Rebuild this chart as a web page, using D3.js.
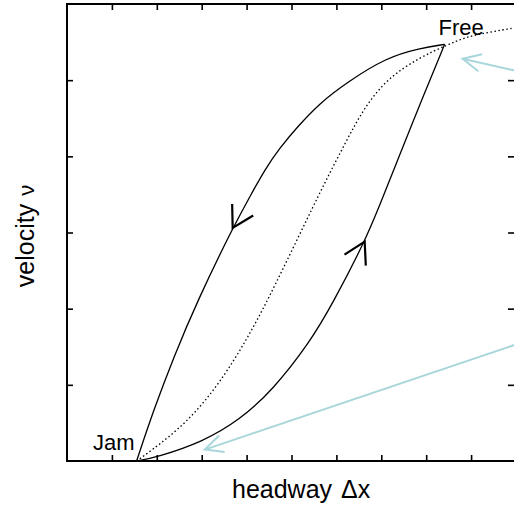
<!DOCTYPE html>
<html>
<head>
<meta charset="utf-8">
<script src="https://cdn.jsdelivr.net/npm/d3@7"></script>
<style>
body { margin: 0; background: #fff; }
text { font-family: "Liberation Sans", Arial, sans-serif; fill: #000; }
</style>
</head>
<body>
<script>
var w = 514, h = 507;

// optimal velocity curve (dotted)
var ovX = [1.55, 1.84, 2.67, 3.40, 4.00, 4.47, 5.12, 5.76, 6.23, 6.59, 7.12, 7.86, 8.46, 8.90, 9.41, 10.0];
var ovY = [0, 0.12, 0.50, 1.02, 1.59, 2.11, 2.90, 3.68, 4.21, 4.61, 5.02, 5.30, 5.46, 5.57, 5.63, 5.69];
// deceleration branch, free -> jam
var decX = [8.41, 7.86, 7.12, 6.23, 5.63, 5.12, 4.74, 4.42, 4.09, 3.69, 2.91, 2.38, 1.93, 1.55];
var decY = [5.47, 5.42, 5.30, 4.97, 4.70, 4.38, 4.11, 3.84, 3.49, 3.06, 2.11, 1.37, 0.67, 0];
// acceleration branch, jam -> free
var accX = [1.55, 2.00, 3.02, 3.85, 4.58, 5.40, 5.92, 6.63, 6.94, 7.45, 7.90, 8.41];
var accY = [0, 0.05, 0.25, 0.54, 0.93, 1.55, 2.07, 2.88, 3.32, 4.08, 4.74, 5.47];
// direction arrows on the branches (index of the point they sit on)
var decArrow = 9, accArrow = 7;
// labelled states
var stateNames = ["Free", "Jam"];
var stateX = [8.41, 1.55];
var stateY = [5.47, 0];
// annotation arrows coming from outside: [from, to]
var noteFrom = [[10.55, 5.05], [10.55, 1.64]];
var noteTo = [[8.81, 5.28], [3.07, 0.15]];
var xTicks = [1, 2, 3, 4, 5, 6, 7, 8, 9];
var yTicks = [1, 2, 3, 4, 5];

var pLeft = 67, pTop = 4, pRight = 516, pBottom = 461;

var x = d3.scaleLinear().domain([0, 10]).range([pLeft, pRight]);
var y = d3.scaleLinear().domain([0, 6]).range([pBottom, pTop]);

var svg = d3.select("body").append("svg")
	.attr("width", w)
	.attr("height", h);

function plain(g) {
	g.select(".domain").remove();
	g.selectAll("line").attr("stroke-width", 1.6);
}

// ticks on all four sides
svg.append("g").attr("transform", "translate(0," + pBottom + ")")
	.call(d3.axisBottom(x).tickValues(xTicks).tickSize(-6).tickFormat(""))
	.call(plain);
svg.append("g").attr("transform", "translate(0," + pTop + ")")
	.call(d3.axisTop(x).tickValues(xTicks).tickSize(-6).tickFormat(""))
	.call(plain);
svg.append("g").attr("transform", "translate(" + pLeft + ",0)")
	.call(d3.axisLeft(y).tickValues(yTicks).tickSize(-6).tickFormat(""))
	.call(plain);
svg.append("g").attr("transform", "translate(" + pRight + ",0)")
	.call(d3.axisRight(y).tickValues(yTicks).tickSize(-8).tickFormat(""))
	.call(plain);

svg.append("rect")
	.attr("x", pLeft).attr("y", pTop)
	.attr("width", pRight - pLeft).attr("height", pBottom - pTop)
	.attr("fill", "none").attr("stroke", "#000").attr("stroke-width", 2);

var line = d3.line()
	.x(function(d) { return x(d[0]); })
	.y(function(d) { return y(d[1]); })
	.curve(d3.curveBasis);

function pts(xs, ys) { return xs.map(function(v, i) { return [v, ys[i]]; }); }

var ov = pts(ovX, ovY), dec = pts(decX, decY), acc = pts(accX, accY);

svg.append("path").attr("d", line(ov))
	.attr("fill", "none").attr("stroke", "#000").attr("stroke-width", 1.3)
	.attr("stroke-dasharray", "1.5,2.5");
svg.append("path").attr("d", line(dec))
	.attr("fill", "none").attr("stroke", "#000").attr("stroke-width", 1.3);
svg.append("path").attr("d", line(acc))
	.attr("fill", "none").attr("stroke", "#000").attr("stroke-width", 1.3);

// arrow heads along the branches
function head(tip, back, len, ang) {
	var dx = x(back[0]) - x(tip[0]), dy = y(back[1]) - y(tip[1]);
	var a = Math.atan2(dy, dx), tx = x(tip[0]), ty = y(tip[1]);
	return "M" + (tx + len * Math.cos(a - ang)) + "," + (ty + len * Math.sin(a - ang)) +
		"L" + tx + "," + ty +
		"L" + (tx + len * Math.cos(a + ang)) + "," + (ty + len * Math.sin(a + ang));
}
svg.append("path")
	.attr("d", head(dec[decArrow], dec[decArrow - 1], 24, Math.PI / 6))
	.attr("fill", "none").attr("stroke", "#000").attr("stroke-width", 2.2);
svg.append("path")
	.attr("d", head(acc[accArrow], acc[accArrow - 1], 24, Math.PI / 6))
	.attr("fill", "none").attr("stroke", "#000").attr("stroke-width", 2.2);

// light blue annotation arrows
noteFrom.forEach(function(f, i) {
	var t = noteTo[i];
	svg.append("line")
		.attr("x1", x(f[0])).attr("y1", y(f[1]))
		.attr("x2", x(t[0])).attr("y2", y(t[1]))
		.attr("stroke", "#a8d6da").attr("stroke-width", 2);
	svg.append("path")
		.attr("d", head(t, f, 20, Math.PI / 7))
		.attr("fill", "none").attr("stroke", "#a8d6da").attr("stroke-width", 2);
});

// state labels
svg.append("text").attr("x", x(stateX[0]) - 6).attr("y", y(stateY[0]) - 9)
	.attr("font-size", 22).text(stateNames[0]);
svg.append("text").attr("x", x(stateX[1]) - 2).attr("y", y(stateY[1]) - 11)
	.attr("text-anchor", "end").attr("font-size", 22).text(stateNames[1]);

// axis titles
var xl = svg.append("text").attr("x", 232).attr("y", 498)
	.attr("font-size", 25).text("headway");
xl.append("tspan").attr("dx", 9).text("Δx");
var yl = svg.append("text")
	.attr("transform", "translate(34,236) rotate(-90)")
	.attr("text-anchor", "middle").attr("font-size", 25)
	.text("velocity");
yl.append("tspan").attr("dx", 8).attr("font-size", 22).text("ν");
</script>
</body>
</html>
